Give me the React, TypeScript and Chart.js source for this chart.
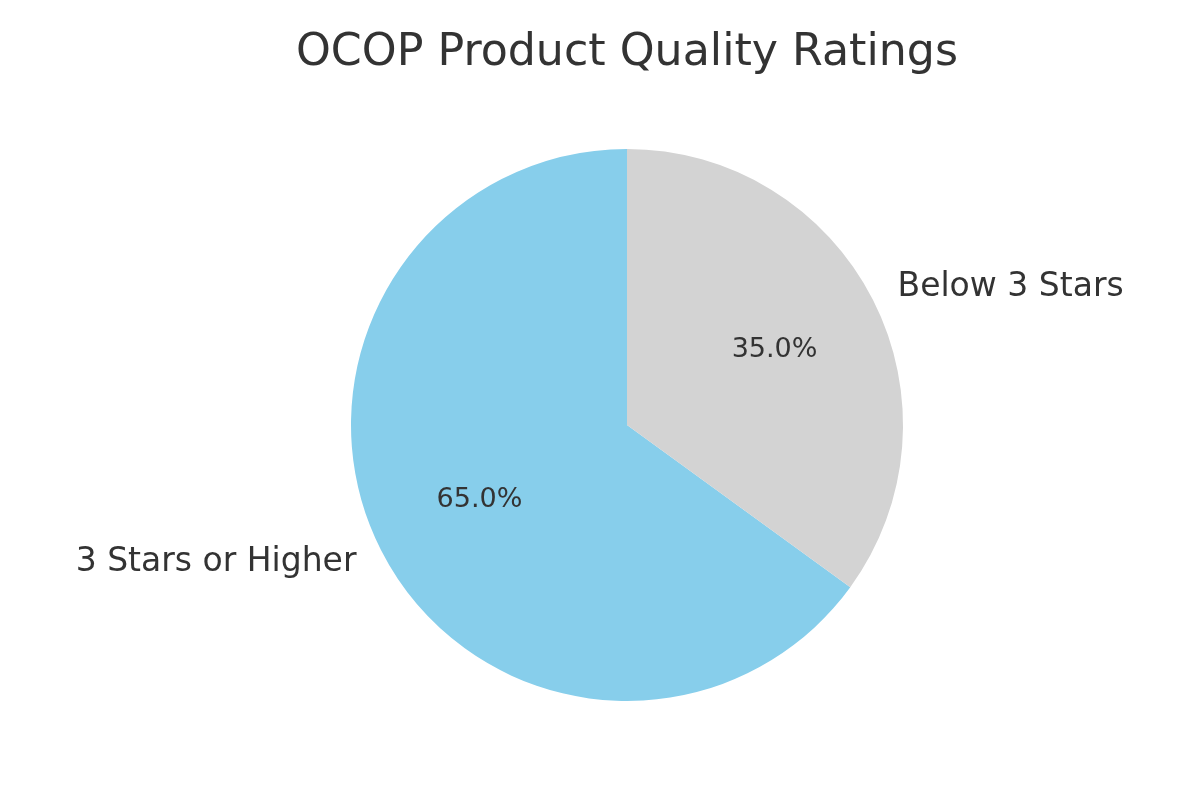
import React, { useEffect, useRef } from "react";
import { Chart, registerables } from "chart.js";

Chart.register(...registerables);

const title = "OCOP Product Quality Ratings";
const categories = ["3 Stars or Higher", "Below 3 Stars"];
const values = [65, 35];
const colors = ["#87CEEB", "#D3D3D3"];

const FONT = "'DejaVu Sans', sans-serif";
const TEXT = "#333333";

const labelPlugin = {
  id: "mplLabels",
  afterDatasetsDraw(chart: any) {
    const ctx = chart.ctx;
    const meta = chart.getDatasetMeta(0);
    const total = values.reduce((a, b) => a + b, 0);
    ctx.save();
    ctx.fillStyle = TEXT;
    meta.data.forEach((arc: any, i: number) => {
      const { x, y, outerRadius, startAngle, endAngle } = arc.getProps(
        ["x", "y", "outerRadius", "startAngle", "endAngle"],
        true
      );
      const mid = (startAngle + endAngle) / 2;
      const cx = Math.cos(mid);
      const cy = Math.sin(mid);
      // outer label
      ctx.font = `33px ${FONT}`;
      ctx.textBaseline = "middle";
      ctx.textAlign = cx >= 0 ? "left" : "right";
      ctx.fillText(categories[i], x + 1.1 * outerRadius * cx, y + 1.1 * outerRadius * cy);
      // pct label
      ctx.font = `27px ${FONT}`;
      ctx.textAlign = "center";
      const pct = ((values[i] / total) * 100).toFixed(1) + "%";
      ctx.fillText(pct, x + 0.6 * outerRadius * cx, y + 0.6 * outerRadius * cy);
    });
    // title
    ctx.font = `44.3px ${FONT}`;
    ctx.textAlign = "center";
    ctx.textBaseline = "alphabetic";
    ctx.fillText(title, (chart.chartArea.left + chart.chartArea.right) / 2, 65);
    ctx.restore();
  },
};

export default function App() {
  const ref = useRef<HTMLCanvasElement | null>(null);
  useEffect(() => {
    document.body.style.margin = "0";
    if (!ref.current) return;
    const total = values.reduce((a, b) => a + b, 0);
    const chart = new Chart(ref.current, {
      type: "pie",
      data: {
        labels: categories,
        datasets: [
          {
            data: values,
            backgroundColor: colors,
            borderWidth: 0,
          },
        ],
      },
      options: {
        responsive: false,
        animation: false,
        rotation: (360 * values[1]) / total,
        layout: { padding: { top: 149, bottom: 99, left: 351, right: 297 } },
        plugins: {
          legend: { display: false },
          tooltip: { enabled: false },
          title: { display: false },
        },
      },
      plugins: [labelPlugin],
    });
    return () => chart.destroy();
  }, []);
  return (
    <div style={{ width: 1200, height: 800, background: "#fff" }}>
      <canvas ref={ref} width={1200} height={800} />
    </div>
  );
}
